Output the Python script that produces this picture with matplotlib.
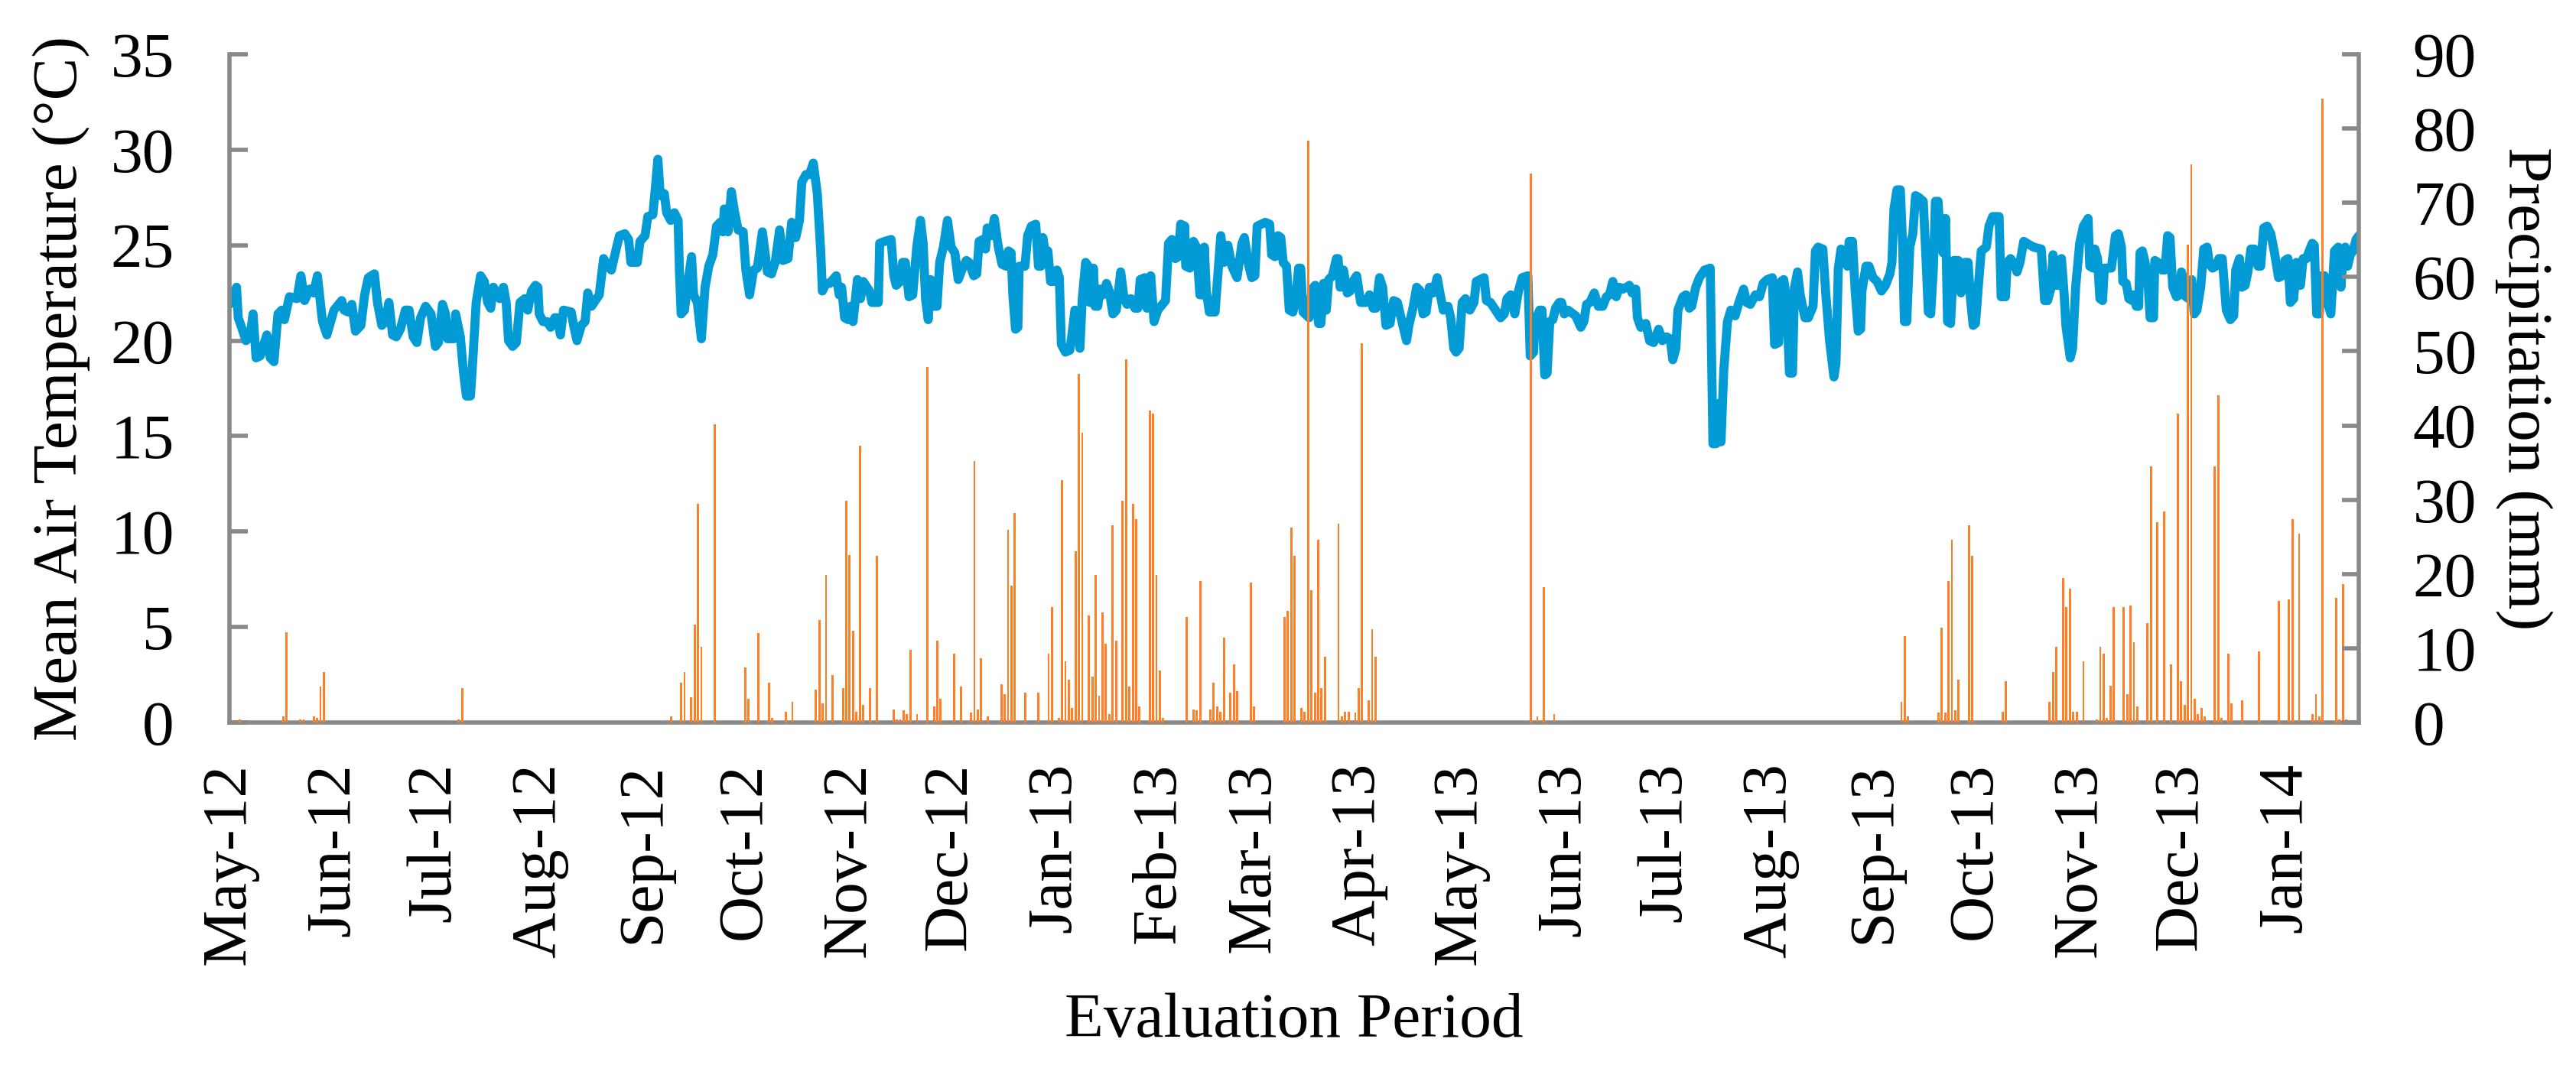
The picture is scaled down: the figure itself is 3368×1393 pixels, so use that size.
import numpy as np
import pandas as pd
import matplotlib
matplotlib.use("Agg")
import matplotlib.pyplot as plt

plt.rcParams["font.family"] = ["Liberation Serif", "DejaVu Serif"]

START = "2012-05-01"
END_DAY = 631.7  # last day on the axis (days after START)

# mean air temperature: day offset from START, degC
temp_day = [
    0.0, 2.1, 2.6, 3.4, 4.9, 6.1, 7.0, 7.9, 9.1, 11.1, 12.1, 13.2, 14.4, 15.5, 16.3, 17.8,
    20.0, 21.2, 22.3, 23.8, 25.0, 26.1, 27.6, 28.9, 31.0, 33.3, 34.0, 35.2, 36.3, 37.4, 39.0,
    40.1, 41.2, 43.0, 43.9, 45.2, 46.3, 47.3, 48.4, 49.5, 50.7, 52.2, 53.3, 54.5, 55.6, 56.7,
    58.2, 59.8, 61.1, 62.0, 63.2, 64.1, 64.7, 66.6, 67.1, 68.5, 69.4, 70.3, 71.5, 72.2, 73.2,
    74.5, 75.6, 76.6, 77.5, 78.3, 80.2, 81.3, 82.1, 82.8, 84.0, 85.1, 86.2, 87.6, 88.5, 89.6,
    90.8, 91.5, 91.9, 93.0, 94.2, 95.3, 96.5, 97.2, 98.2, 99.1, 101.4, 102.1, 103.1, 104.4,
    105.5, 106.3, 107.4, 109.7, 111.0, 112.3, 113.3, 114.6, 115.7, 117.3, 118.4, 119.1, 121.0,
    121.8, 123.3, 124.1, 125.6, 126.2, 127.1, 127.8, 129.0, 129.7, 130.9, 132.0, 133.1, 133.5,
    134.0, 135.0, 135.8, 137.1, 137.7, 138.8, 140.0, 141.1, 142.2, 143.4, 144.5, 145.6, 146.4,
    146.8, 147.9, 148.9, 149.8, 150.9, 152.4, 153.2, 154.3, 155.5, 156.6, 158.1, 159.6, 160.8,
    161.9, 163.2, 164.2, 165.7, 166.8, 168.0, 169.1, 169.8, 171.0, 172.1, 173.2, 174.4, 175.4,
    175.9, 177.0, 178.1, 180.0, 180.9, 181.6, 182.5, 183.5, 184.2, 185.0, 186.3, 187.2, 188.0,
    189.9, 190.6, 192.5, 192.9, 194.4, 196.3, 197.1, 197.8, 199.0, 199.7, 200.5, 201.6, 202.7,
    203.9, 205.0, 205.8, 206.5, 207.3, 208.0, 209.2, 209.9, 210.7, 211.8, 213.0, 214.1, 215.2,
    216.2, 217.5, 218.6, 219.4, 220.8, 221.7, 222.4, 223.5, 224.3, 224.8, 226.0, 226.9, 228.1,
    229.2, 230.4, 231.1, 231.9, 232.4, 233.2, 233.9, 234.3, 236.0, 236.8, 237.9, 239.2, 240.0,
    240.7, 241.3, 242.1, 242.8, 243.6, 244.7, 245.5, 246.2, 246.8, 248.0, 249.3, 250.0, 250.8,
    251.5, 252.3, 253.0, 254.0, 254.8, 255.3, 256.3, 256.8, 257.6, 258.3, 259.1, 260.2, 261.0,
    262.1, 263.1, 264.4, 265.4, 266.3, 267.4, 268.6, 269.5, 270.2, 271.6, 272.2, 273.3, 274.3,
    275.4, 277.7, 278.6, 279.6, 280.6, 281.5, 282.2, 283.4, 283.7, 284.9, 286.0, 286.9, 287.9,
    288.7, 289.2, 289.8, 290.7, 292.4, 293.2, 294.1, 295.1, 296.2, 297.4, 298.9, 300.4, 301.1,
    302.3, 303.3, 304.2, 304.9, 306.1, 307.3, 308.6, 309.2, 310.2, 311.1, 311.9, 312.6, 313.6,
    314.4, 315.5, 316.3, 317.2, 317.8, 318.5, 320.3, 321.2, 322.1, 323.1, 323.8, 324.6, 325.4,
    326.1, 327.2, 328.4, 328.9, 329.5, 330.5, 331.6, 332.5, 333.3, 334.4, 335.6, 337.1, 338.2,
    339.3, 340.1, 341.2, 342.1, 343.1, 344.3, 345.4, 346.5, 348.1, 349.2, 349.9, 351.1, 352.2,
    353.3, 354.1, 355.0, 356.0, 357.1, 358.3, 359.0, 360.1, 361.5, 362.3, 363.2, 363.9, 364.8,
    365.7, 366.7, 368.0, 369.2, 369.9, 372.2, 372.9, 374.1, 377.1, 378.2, 379.0, 380.1, 381.3,
    382.4, 383.5, 385.2, 385.9, 386.9, 387.3, 388.7, 389.4, 390.2, 390.9, 391.7, 392.6, 393.4,
    394.5, 395.2, 396.0, 397.1, 399.4, 400.9, 401.8, 402.6, 403.6, 404.9, 406.1, 407.4, 408.5,
    409.4, 410.4, 411.4, 412.3, 413.4, 414.5, 415.3, 416.1, 417.2, 417.7, 418.7, 420.2, 421.3,
    422.5, 424.0, 425.1, 426.3, 427.4, 428.2, 429.1, 429.7, 431.2, 432.1, 433.1, 433.8, 435.0,
    436.1, 437.6, 439.3, 440.1, 441.0, 441.4, 442.5, 443.3, 444.4, 445.4, 446.7, 447.8, 449.2,
    450.1, 451.2, 452.7, 453.9, 455.0, 456.2, 457.7, 458.4, 459.6, 460.3, 461.1, 461.8, 462.2,
    462.8, 463.7, 464.3, 465.2, 466.0, 467.4, 468.4, 469.8, 470.5, 471.3, 472.7, 473.6, 474.7,
    476.0, 476.6, 477.3, 478.1, 479.2, 480.0, 480.5, 481.5, 482.3, 483.2, 483.9, 484.3, 485.5,
    486.4, 487.6, 488.8, 490.1, 491.3, 492.6, 493.2, 493.8, 494.7, 495.7, 496.4, 496.9, 497.6,
    498.5, 499.4, 500.2, 501.2, 502.5, 503.2, 504.0, 504.7, 505.5, 506.1, 506.9, 507.6, 508.4,
    509.1, 509.7, 510.6, 511.5, 512.9, 513.7, 514.8, 515.8, 516.5, 517.3, 518.0, 518.9, 519.7,
    521.2, 522.0, 523.1, 525.0, 525.6, 526.9, 527.4, 528.4, 529.5, 530.3, 531.2, 532.3, 535.2,
    537.5, 538.5, 539.4, 540.3, 541.0, 541.6, 542.6, 543.5, 544.3, 544.8, 546.1, 546.8, 547.7,
    548.9, 550.0, 551.4, 551.9, 552.9, 553.4, 554.2, 554.9, 555.7, 556.2, 558.3, 559.5, 560.4,
    561.3, 561.7, 562.7, 563.5, 564.5, 564.9, 565.7, 566.4, 566.8, 567.5, 568.3, 569.1, 569.8,
    570.8, 571.2, 572.1, 573.3, 574.2, 575.0, 575.7, 576.5, 577.6, 578.6, 579.1, 579.9, 580.4,
    581.2, 582.1, 582.9, 583.7, 584.8, 585.7, 586.7, 587.4, 588.3, 589.3, 590.2, 591.2, 592.4,
    593.6, 594.6, 595.2, 596.3, 597.0, 598.0, 598.8, 599.7, 600.7, 601.8, 602.6, 603.5, 604.5,
    605.6, 606.7, 607.9, 609.0, 609.8, 610.7, 611.4, 612.4, 613.2, 613.9, 614.4, 615.2, 616.2,
    617.0, 617.9, 618.5, 619.2, 620.0, 620.7, 621.5, 622.5, 623.4, 624.5, 625.6, 626.4, 626.9,
    627.7, 628.4, 629.2, 630.0, 630.9, 631.7,
]
temp_c = [
    21.9, 22.8, 21.2, 20.8, 20.0, 20.2, 21.4, 19.1, 19.2, 20.3, 19.1, 18.9, 21.4, 21.6, 21.1, 22.3,
    22.2, 23.4, 22.1, 22.7, 22.5, 23.4, 21.0, 20.3, 21.6, 22.1, 21.6, 21.5, 21.9, 20.5, 20.8,
    22.4, 23.3, 23.5, 22.0, 20.8, 21.0, 22.0, 20.3, 20.2, 20.6, 21.6, 21.6, 20.2, 19.9, 21.2,
    21.8, 21.4, 19.7, 19.9, 21.9, 21.4, 20.1, 20.1, 21.4, 20.2, 18.4, 17.1, 17.1, 19.0, 22.0,
    23.4, 23.1, 22.0, 21.7, 22.8, 22.2, 22.8, 22.0, 20.0, 19.7, 19.9, 22.0, 22.2, 21.6, 22.6,
    22.9, 22.8, 21.4, 21.0, 21.0, 20.7, 21.2, 21.2, 20.3, 21.6, 21.5, 20.8, 20.0, 20.8,
    21.0, 22.5, 21.8, 22.4, 24.3, 23.9, 23.7, 24.7, 25.5, 25.6, 25.3, 24.1, 24.1,
    25.2, 25.5, 26.5, 26.6, 27.7, 29.5, 27.6, 27.7, 26.7, 26.3, 26.7, 26.3, 23.6,
    21.4, 21.6, 22.8, 24.4, 22.4, 22.0, 20.1, 22.8, 23.9, 24.5, 26.0, 26.2, 25.7,
    26.9, 25.7, 27.8, 26.8, 25.8, 25.7, 23.7, 22.4, 23.7, 23.8, 25.7, 23.6, 23.5,
    24.1, 25.8, 24.2, 24.3, 26.2, 25.4, 26.3, 28.3, 28.7, 28.7, 29.3, 27.7, 24.7,
    22.6, 23.0, 23.0, 23.4, 22.4, 22.8, 21.2, 21.1, 21.8, 21.0, 23.2, 22.2, 23.1,
    22.6, 22.0, 22.0, 25.1, 25.2, 25.3, 23.4, 22.9, 23.1, 24.1, 24.1, 22.3, 22.4,
    24.9, 26.3, 25.1, 22.2, 21.1, 23.2, 21.8, 21.8, 24.1, 24.9, 26.3, 24.9, 24.6,
    23.2, 23.8, 24.2, 24.1, 23.4, 23.5, 25.2, 25.3, 24.8, 25.9, 25.5, 26.4, 24.9,
    24.0, 23.9, 24.7, 24.6, 22.4, 20.6, 20.7, 23.9, 23.9, 25.5, 26.0, 26.1, 23.9,
    23.9, 25.4, 24.5, 24.7, 23.1, 23.1, 23.7, 23.3, 19.8, 19.4, 19.5, 20.4, 21.6,
    21.5, 19.6, 22.2, 24.1, 23.9, 22.0, 23.8, 21.8, 21.8, 22.7, 22.4, 23.0, 22.6,
    21.4, 21.6, 23.6, 22.2, 21.9, 22.2, 21.7, 21.7, 23.2, 23.3, 21.7, 23.4, 21.0,
    21.6, 22.1, 25.1, 25.3, 24.3, 24.4, 26.1, 26.0, 23.9, 23.8, 25.2, 24.9, 22.4,
    22.4, 24.9, 22.6, 21.5, 21.5, 23.4, 25.5, 24.1, 25.0, 23.9, 23.3, 25.1, 25.4,
    24.0, 23.3, 23.4, 26.0, 26.1, 26.2, 26.1, 24.5, 24.4, 25.5, 25.4, 24.1, 23.9,
    21.6, 21.5, 22.2, 23.8, 23.8, 21.5, 21.2, 22.7, 22.9, 20.9, 20.9, 23.0, 21.6,
    23.2, 23.4, 24.3, 24.3, 22.8, 23.7, 22.5, 22.6, 23.1, 23.4, 22.0, 22.0, 22.4,
    21.7, 21.7, 23.3, 22.8, 20.8, 20.9, 22.1, 22.0, 20.8, 20.0, 20.8, 21.7, 22.8,
    22.6, 21.4, 21.5, 22.8, 22.5, 23.3, 22.6, 21.6, 21.8, 21.2, 19.6, 19.4, 19.6,
    22.0, 22.2, 21.6, 22.0, 23.1, 23.3, 22.1, 22.0, 21.2, 21.4, 22.2, 22.4, 21.4,
    22.6, 23.3, 23.4, 19.2, 19.4, 21.0, 21.6, 21.6, 18.2, 18.3, 21.0, 21.1, 21.7,
    22.0, 22.0, 21.4, 21.6, 21.3, 20.7, 21.0, 21.9, 22.0, 22.5, 21.8, 21.8, 22.3,
    22.4, 23.1, 22.3, 22.8, 22.7, 22.8, 22.9, 22.5, 22.7, 21.2, 20.7, 20.9, 20.0,
    19.9, 20.6, 20.0, 20.2, 20.1, 19.0, 19.6, 21.6, 22.3, 22.4, 21.7, 21.8, 22.8,
    23.3, 23.7, 23.8, 14.6, 14.6, 16.7, 14.7, 18.4, 21.0, 21.6, 21.3, 22.0, 22.7,
    22.0, 21.9, 22.4, 22.3, 23.0, 23.2, 23.3, 19.8, 19.9, 23.1, 23.2, 22.4, 21.0,
    18.3, 18.3, 22.8, 23.6, 22.4, 21.2, 21.2, 21.8, 24.7, 24.9, 24.8, 22.4, 20.0,
    18.1, 18.8, 23.8, 24.8, 24.5, 23.9, 25.2, 25.2, 22.6, 20.5, 20.6, 22.6, 23.9,
    23.9, 23.3, 23.1, 22.6, 22.9, 23.5, 24.1, 26.9, 27.9, 27.9, 24.9, 21.0, 21.0,
    24.9, 25.6, 27.6, 27.5, 27.3, 24.7, 21.5, 21.4, 23.8, 27.3, 27.3, 25.0, 24.6,
    26.4, 21.0, 20.9, 24.2, 24.2, 22.5, 24.1, 24.1, 22.2, 20.8, 20.9, 23.0, 24.7,
    24.9, 26.0, 26.5, 26.5, 22.3, 22.3, 24.1, 24.3, 24.0, 23.6, 24.1, 25.2, 24.9,
    24.8, 22.1, 22.1, 22.7, 24.5, 22.9, 22.9, 24.3, 22.4, 20.8, 19.1, 19.6, 22.8,
    25.1, 26.0, 26.4, 23.9, 23.8, 24.8, 24.3, 22.2, 22.1, 23.8, 23.8, 25.5, 25.6,
    24.9, 23.1, 23.0, 22.2, 22.1, 22.4, 21.8, 21.8, 24.6, 24.7, 24.1, 23.3, 21.2,
    21.2, 24.2, 24.1, 23.7, 23.7, 25.5, 25.4, 22.8, 22.3, 22.4, 23.6, 23.1, 22.3,
    22.2, 23.2, 21.4, 21.6, 22.8, 24.8, 24.9, 24.0, 23.8, 23.9, 24.3, 24.3, 21.6,
    21.1, 21.3, 23.7, 24.3, 22.8, 22.9, 23.6, 24.8, 24.8, 23.9, 23.9, 25.9, 26.0,
    25.6, 24.6, 23.3, 23.4, 24.2, 24.3, 22.0, 22.2, 24.1, 22.9, 22.9, 24.3, 24.3,
    24.7, 25.1, 25.0, 21.4, 21.4, 23.4, 23.4, 22.0, 21.4, 24.7, 24.9, 22.8, 24.1,
    24.9, 23.9, 24.5, 24.7, 25.3, 25.5,
]

# daily precipitation (mm), only the days with a visible bar
rain_day = [
    3, 16, 17, 21, 22, 25, 26, 27, 28, 68, 69,
    131, 134, 135, 137, 138, 139, 140, 144, 153, 154, 157, 160, 161, 165, 167, 174, 175, 176,
    177, 179, 182, 183, 184, 185, 186, 187, 188, 190, 192, 197, 198, 199, 200, 201, 202, 204,
    207, 209, 210, 211, 215, 217, 220, 221, 222, 223, 225, 229, 230, 231, 232, 233, 236, 240,
    243, 244, 246, 247, 248, 249, 250, 251, 252, 253, 255, 256, 257, 258, 259, 260, 261, 262,
    263, 265, 266, 267, 268, 269, 270, 273, 274, 275, 276, 277, 284, 286, 287, 288, 291, 292,
    293, 294, 295, 297, 298, 299, 303, 304, 313, 314, 315, 316, 318, 319, 320, 321, 322, 323,
    324, 325, 329, 330, 331, 332, 334, 335, 336, 338, 339, 340,
    386, 388, 390, 393,
    496, 497, 498, 507, 508, 509, 510, 511, 512, 513, 516, 517, 526, 527, 540, 541, 542, 544,
    545, 546, 547, 548, 550, 554, 555, 556, 557, 558, 559, 562, 563, 564, 565, 566, 569, 570,
    572, 574, 576, 578, 579, 580, 581, 582, 583, 584, 585, 586, 589, 590, 591, 593, 594, 597,
    602, 608, 611, 612, 614, 618, 619, 620, 621, 625, 626, 627, 628,
]
rain_mm = [
    0.4, 0.8, 12.1, 0.4, 0.4, 0.8, 0.6, 4.8, 6.8, 0.4, 4.6,
    0.8, 5.4, 6.8, 3.4, 13.2, 29.4, 10.2, 40.2, 7.4, 3.2, 12.0, 5.4, 0.6, 1.4, 2.8, 4.4, 13.8, 2.6,
    19.9, 6.4, 4.6, 29.9, 22.6, 12.4, 1.4, 37.3, 2.4, 4.6, 22.4, 1.8, 0.4, 0.4, 1.6, 1.1, 9.8, 1.1,
    47.9, 2.2, 11.0, 3.2, 9.3, 4.8, 1.3, 35.2, 1.8, 8.7, 0.8, 5.2, 3.8, 26.0, 18.4, 28.2, 4.0, 4.0,
    9.3, 15.5, 0.6, 32.6, 8.2, 5.8, 2.0, 23.1, 47.0, 39.0, 14.4, 6.2, 19.9, 3.6, 14.8, 10.6, 1.1, 26.6,
    11.0, 29.9, 48.9, 4.8, 29.4, 27.4, 2.2, 42.0, 41.6, 19.9, 7.0, 0.6, 14.2, 1.8, 1.6, 19.0, 1.8, 5.4,
    2.2, 1.4, 11.4, 4.0, 7.8, 4.2, 18.8, 2.2, 14.2, 15.0, 26.3, 22.4, 2.0, 1.4, 78.4, 17.8, 4.0, 24.6,
    4.6, 8.9, 26.8, 0.8, 1.4, 1.4, 1.3, 4.6, 51.1, 3.0, 12.6, 8.9,
    73.9, 0.8, 18.2, 1.1,
    2.8, 11.6, 0.8, 1.3, 12.8, 1.3, 19.0, 24.6, 1.6, 5.8, 26.6, 22.4, 1.4, 5.6, 2.8, 6.8, 10.2, 19.5,
    15.5, 18.0, 1.4, 1.4, 8.2, 0.4, 10.2, 9.3, 0.6, 4.9, 15.6, 15.5, 3.8, 15.8, 10.8, 2.2, 13.4, 34.5,
    27.0, 28.4, 7.8, 41.6, 5.6, 2.4, 64.4, 75.2, 3.2, 1.1, 2.0, 0.8, 34.5, 44.1, 0.6, 9.3, 2.6, 3.0,
    9.6, 16.4, 16.6, 27.4, 25.4, 1.1, 3.8, 0.8, 84.0, 16.8, 0.4, 18.6, 0.4,
]

temp_ticks = list(range(0, 36, 5))
rain_ticks = list(range(0, 91, 10))

BLUE = "#029BD6"
ORANGE = "#FF7F27"
GREY = "#898989"
FS = 60

# month ticks as day offsets
months = pd.date_range(START, "2014-01-01", freq="MS")
month_pos = (months - pd.Timestamp(START)).days.values
month_lab = [m.strftime("%b-%y") for m in months]

fig = plt.figure(figsize=(33.68, 13.93), dpi=100)
ax = fig.add_axes([300 / 3368, 448 / 1393, 2784 / 3368, 874 / 1393])
ax2 = ax.twinx()

ax.plot(temp_day, temp_c, color=BLUE, lw=8.5, solid_joinstyle="round", solid_capstyle="round")
ax2.bar(rain_day, rain_mm, width=0.65, color=ORANGE, linewidth=0)

ax.set_xlim(0, END_DAY)
ax.set_ylim(0, 35)
ax2.set_ylim(0, 90)
ax.set_yticks(temp_ticks)
ax2.set_yticks(rain_ticks)
ax.set_xticks(month_pos)
ax.set_xticklabels(month_lab, rotation=90)

for a in (ax, ax2):
    for s in a.spines.values():
        s.set_visible(False)
ax.spines["left"].set_visible(True)
ax.spines["bottom"].set_visible(True)
ax2.spines["right"].set_visible(True)
for s in (ax.spines["left"], ax.spines["bottom"], ax2.spines["right"]):
    s.set_color(GREY)
    s.set_linewidth(4)

ax.tick_params(axis="y", direction="in", length=17, width=4, color=GREY, labelsize=FS, pad=52)
ax2.tick_params(axis="y", direction="in", length=16, width=4, color=GREY, labelsize=FS, pad=51)
ax.tick_params(axis="x", length=0, labelsize=FS, pad=38)

ax.set_ylabel("Mean Air Temperature (°C)", fontsize=FS, va="center")
ax.yaxis.set_label_coords(-0.079, 0.5)
ax2.set_ylabel("Precipitation (mm)", fontsize=FS, rotation=270, va="center")
ax2.yaxis.set_label_coords(1.0776, 0.5)
ax.set_xlabel("Evaluation Period", fontsize=FS, va="center")
ax.xaxis.set_label_coords(0.5, -0.448)

fig.savefig("out.png", dpi=100)
